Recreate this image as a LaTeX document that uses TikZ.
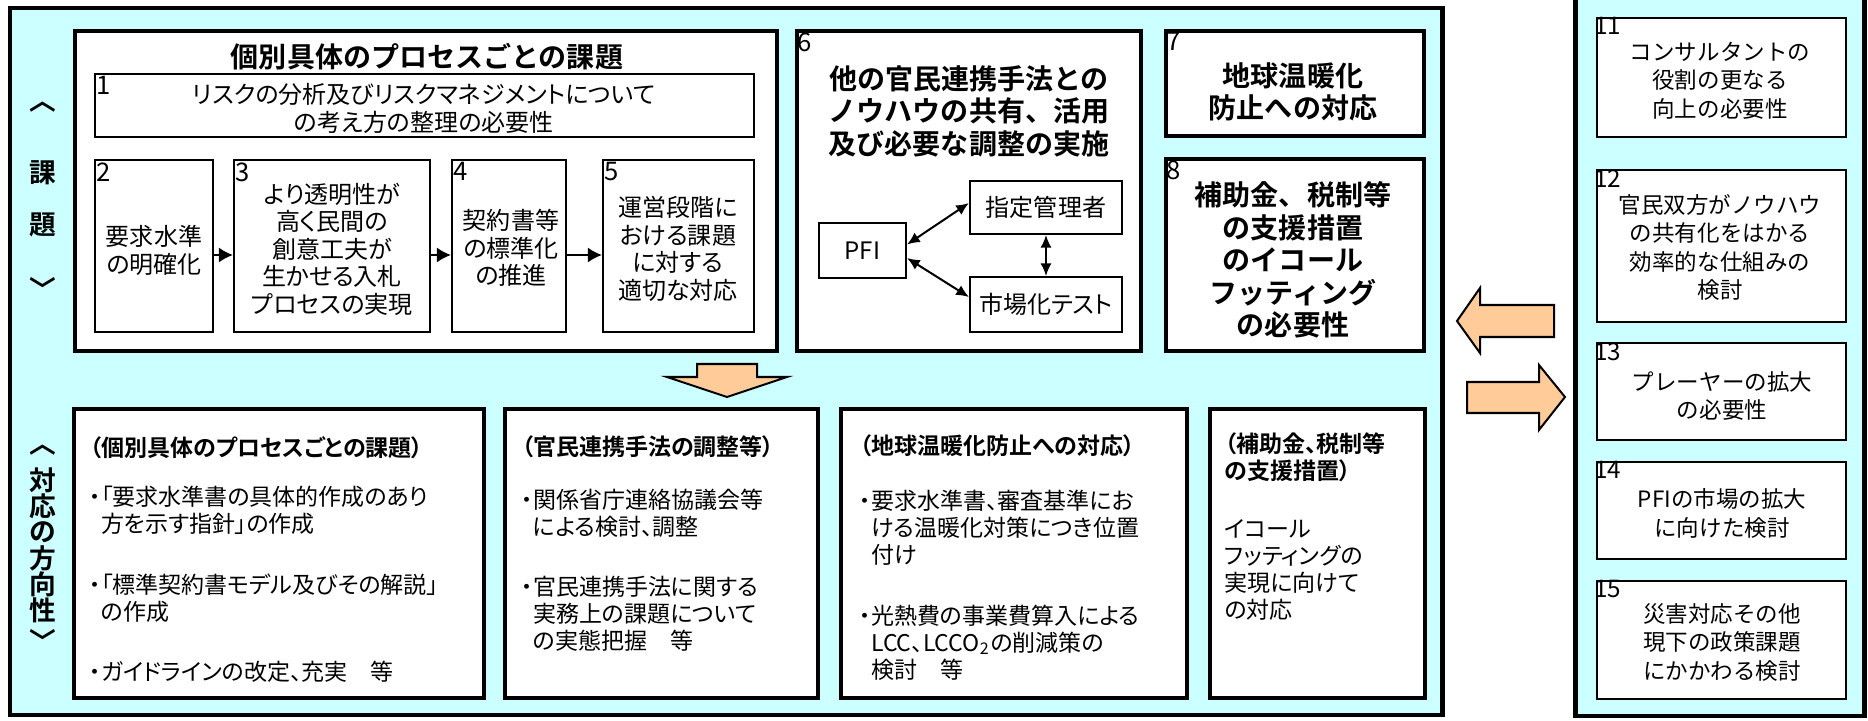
\documentclass[tikz,border=0pt]{standalone}
\usepackage{fontspec}
\setmainfont{Noto Sans CJK JP}[BoldFont={* Bold},RawFeature=+palt]
\newfontfamily\fixgoth{Noto Sans CJK JP}[BoldFont={* Bold}]
\usetikzlibrary{arrows.meta}
\definecolor{panelcyan}{HTML}{CCFFFF}
\definecolor{peach}{HTML}{FFCC99}

\begin{document}
\begin{tikzpicture}[x=0.01cm,y=-0.01cm,
  frame/.style={draw,line width=1.14pt,fill=white,inner sep=0pt},
  cell/.style={draw,line width=0.57pt,fill=white,inner sep=0pt},
  ttl/.style={font=\fixgoth\bfseries\fontsize{7.97pt}{9.25pt}\selectfont,align=center,inner sep=0pt},
  txt/.style={font=\fontsize{6.83pt}{7.82pt}\selectfont,align=center,inner sep=0pt},
  rtxt/.style={font=\fixgoth\fontsize{6.4pt}{8.1pt}\selectfont,align=center,inner sep=0pt},
  btxt/.style={font=\fontsize{6.54pt}{7.68pt}\selectfont,align=left,anchor=west,inner sep=0pt},
  num/.style={font=\fontsize{7.3pt}{8pt}\selectfont,anchor=north west,inner xsep=0.6pt,inner ysep=0.8pt},
  vlab/.style={font=\fixgoth\bfseries\fontsize{7.6pt}{8pt}\selectfont,inner sep=0pt},
  link/.style={line width=0.57pt,-{Latex[length=4pt,width=4.3pt]}},
  both/.style={line width=0.57pt,{Latex[length=3.6pt,width=3.2pt]}-{Latex[length=3.6pt,width=3.2pt]}},
  bigarrow/.style={draw,line width=0.57pt,fill=peach,line join=miter}]
\useasboundingbox (0,0) rectangle (1868,721);

% panels
\draw[line width=1.42pt,fill=panelcyan] (10,8) rectangle (1442,715);
\draw[line width=1.42pt,fill=panelcyan] (1575,-10) -- (1575,716) -- (1864,716) -- (1864,-10);

% vertical labels
\foreach \y/\c in {107/︿,173/課,225/題,288/﹀}
  \node[vlab] (ka\y) at (43,\y) {\c};
\foreach \y/\c in {450/︿,480/対,506/応,532/の,558/方,584/向,610/性,640/﹀}
  \node[vlab] (ho\y) at (43,\y) {\c};

% issues per process
\node[frame,minimum width=7.02cm,minimum height=3.2cm] (fa) at (426,191) {};
\node[ttl] (fat) at (427,57) {個別具体のプロセスごとの課題};
\node[cell,minimum width=6.59cm,minimum height=0.63cm] (b1) at (424.5,105.5) {};
\node[txt] (b1t) at (424,108.5) {リスクの分析及びリスクマネジメントについて\\の考え方の整理の必要性};
\node[cell,minimum width=1.18cm,minimum height=1.72cm] (b2) at (154,246) {};
\node[txt] (b2t) at (154,250.5) {要求水準\\の明確化};
\node[cell,minimum width=1.96cm,minimum height=1.72cm] (b3) at (332,246) {};
\node[txt] (b3t) at (332,249) {より透明性が\\高く民間の\\創意工夫が\\生かせる入札\\プロセスの実現};
\node[cell,minimum width=1.14cm,minimum height=1.72cm] (b4) at (509,246) {};
\node[txt] (b4t) at (511,248) {契約書等\\の標準化\\の推進};
\node[cell,minimum width=1.51cm,minimum height=1.72cm] (b5) at (678.5,246) {};
\node[txt] (b5t) at (678,249) {運営段階に\\おける課題\\に対する\\適切な対応};
\foreach \i in {1,...,5}
  \node[num] (n\i) at (b\i.north west) {\i};
\draw[link] ([yshift=-0.09cm]b2.east) -- ([yshift=-0.09cm]b3.west);
\draw[link] ([yshift=-0.09cm]b3.east) -- ([yshift=-0.09cm]b4.west);
\draw[link] ([yshift=-0.09cm]b4.east) -- ([yshift=-0.09cm]b5.west);

% know-how sharing
\node[frame,minimum width=3.44cm,minimum height=3.2cm] (f6) at (969,191) {};
\node[ttl] (f6t) at (969,111) {他の官民連携手法との\\ノウハウの共有、活用\\及び必要な調整の実施};
\node[cell,txt,minimum width=0.87cm,minimum height=0.55cm] (pfi) at (862.5,250.5) {PFI};
\node[cell,txt,minimum width=1.52cm,minimum height=0.53cm] (shitei) at (1046,207.5) {指定管理者};
\node[cell,txt,minimum width=1.52cm,minimum height=0.55cm] (shijou) at (1046,304.5) {市場化テスト};
\draw[both] ([yshift=0.06cm]pfi.east) -- ([yshift=0.045cm]shitei.west);
\draw[both] ([yshift=-0.075cm]pfi.east) -- ([yshift=0.075cm]shijou.west);
\draw[both] (shitei.south) -- (shijou.north);

% warming, subsidies
\node[frame,minimum width=2.58cm,minimum height=1.05cm] (f7) at (1295,83.5) {};
\node[ttl] (f7t) at (1293,92) {地球温暖化\\防止への対応};
\node[frame,minimum width=2.58cm,minimum height=1.92cm] (f8) at (1295,255) {};
\node[ttl] (f8t) at (1293,260) {補助金、税制等\\の支援措置\\のイコール\\フッティング\\の必要性};
\foreach \i in {6,7,8}
  \node[num] (n\i) at (f\i.north west) {\i};

% block arrows
\draw[bigarrow] (697,364) -- (757,364) -- (757,377) -- (787,377) -- (727,397) -- (667,377) -- (697,377) -- cycle;
\draw[bigarrow] (1457,321) -- (1480,288) -- (1480,305) -- (1554,305) -- (1554,337) -- (1480,337) -- (1480,353) -- cycle;
\draw[bigarrow] (1565,397) -- (1539,430) -- (1539,413) -- (1467,413) -- (1467,382) -- (1539,382) -- (1539,365) -- cycle;

% directions
\node[frame,minimum width=4.10cm,minimum height=2.89cm] (d1) at (279,553.5) {};
\node[btxt] (d1t) at (89,559.5) {{\bfseries （個別具体のプロセスごとの課題）}\\[6.5pt]
  ・「要求水準書の具体的作成のあり\\
  \phantom{・}方を示す指針」の作成\\[9.5pt]
  ・「標準契約書モデル及びその解説」\\
  \phantom{・}の作成\\[9.5pt]
  ・ガイドラインの改定、充実　等};
\node[frame,minimum width=3.13cm,minimum height=2.89cm] (d2) at (661.5,553.5) {};
\node[btxt] (d2t) at (521,543.5) {{\bfseries （官民連携手法の調整等）}\\[7.4pt]
  ・関係省庁連絡協議会等\\
  \phantom{・}による検討、調整\\[9.4pt]
  ・官民連携手法に関する\\
  \phantom{・}実務上の課題について\\
  \phantom{・}の実態把握　等};
\node[frame,minimum width=3.46cm,minimum height=2.89cm] (d3) at (1014,553.5) {};
\node[btxt] (d3t) at (859,557.5) {{\bfseries （地球温暖化防止への対応）}\\[8pt]
  ・要求水準書、審査基準にお\\
  \phantom{・}ける温暖化対策につき位置\\
  \phantom{・}付け\\[9.4pt]
  ・光熱費の事業費算入による\\
  \phantom{・}LCC、LCCO\textsubscript{2}の削減策の\\
  \phantom{・}検討　等};
\node[frame,minimum width=2.15cm,minimum height=2.89cm] (d4) at (1317.5,553.5) {};
\node[btxt] (d4t) at (1224,526.5) {{\bfseries （補助金、税制等}\\
  {\bfseries の支援措置）}\\[8.8pt]
  イコール\\フッティングの\\実現に向けて\\の対応};

% further issues
\node[cell,minimum width=2.49cm,minimum height=1.19cm] (r11) at (1721.5,77.5) {};
\node[rtxt] (r11t) at (1720,80.5) {コンサルタントの\\役割の更なる\\向上の必要性};
\node[cell,minimum width=2.49cm,minimum height=1.52cm] (r12) at (1721.5,246) {};
\node[rtxt] (r12t) at (1720,247.5) {官民双方がノウハウ\\の共有化をはかる\\効率的な仕組みの\\検討};
\node[cell,minimum width=2.49cm,minimum height=0.97cm] (r13) at (1721.5,391.5) {};
\node[rtxt] (r13t) at (1722,396) {プレーヤーの拡大\\の必要性};
\node[cell,minimum width=2.49cm,minimum height=0.97cm] (r14) at (1721.5,510.5) {};
\node[rtxt] (r14t) at (1722,513.5) {PFIの市場の拡大\\に向けた検討};
\node[cell,minimum width=2.49cm,minimum height=1.18cm] (r15) at (1721.5,640) {};
\node[rtxt] (r15t) at (1722,642.5) {災害対応その他\\現下の政策課題\\にかかわる検討};
\foreach \i in {11,...,15}
  \node[num,font=\fontsize{6.9pt}{7.5pt}\selectfont,xshift=-0.045cm,inner ysep=0pt] (n\i) at (r\i.north west) {\i};
\end{tikzpicture}
\end{document}
